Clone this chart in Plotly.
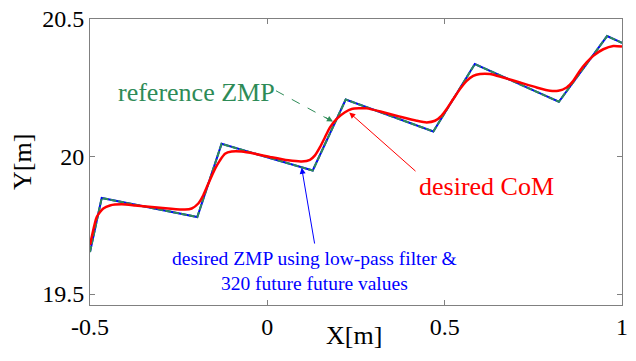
import plotly.graph_objects as go

# Reference ZMP / desired ZMP (piecewise linear footstep pattern)
zmp_x = [-0.5, -0.467, -0.1975, -0.129, 0.128, 0.221, 0.468, 0.585, 0.822, 0.958, 1.0]
zmp_y = [19.653, 19.849, 19.780, 20.046, 19.949, 20.207, 20.091, 20.336, 20.199, 20.438, 20.413]

# Desired CoM
com_x = [-0.5, -0.495, -0.481, -0.4625, -0.4436, -0.4106, -0.373, -0.326, -0.2793, -0.2322,
         -0.2133, -0.1947, -0.1806, -0.1665, -0.1476, -0.1335, -0.1194, -0.1005, -0.0723, -0.0348,
         0.0123, 0.0591, 0.0969, 0.1202, 0.1343, 0.1484, 0.1625, 0.1766, 0.1955, 0.2189,
         0.2378, 0.2801, 0.3269, 0.3739, 0.4211, 0.4493, 0.4727, 0.4915, 0.5057, 0.5243,
         0.5431, 0.562, 0.5806, 0.5995, 0.6277, 0.6652, 0.7123, 0.7594, 0.7969, 0.8203,
         0.844, 0.8626, 0.8814, 0.9003, 0.919, 0.9472, 0.9753, 1.0]
com_y = [19.678, 19.708, 19.780, 19.811, 19.822, 19.826, 19.822, 19.816, 19.811, 19.807,
         19.811, 19.829, 19.859, 19.901, 19.955, 19.986, 20.010, 20.018, 20.018, 20.010,
         19.997, 19.986, 19.982, 19.988, 20.004, 20.034, 20.070, 20.106, 20.137, 20.161,
         20.173, 20.175, 20.161, 20.145, 20.130, 20.124, 20.130, 20.149, 20.173, 20.209,
         20.245, 20.275, 20.293, 20.300, 20.300, 20.287, 20.269, 20.251, 20.239, 20.239,
         20.251, 20.275, 20.312, 20.342, 20.366, 20.390, 20.402, 20.400]

x_ticks = [-0.5, 0, 0.5, 1]
x_tick_labels = ["-0.5", "0", "0.5", "1"]
y_ticks = [19.5, 20, 20.5]
y_tick_labels = ["19.5", "20", "20.5"]

GREEN = "#2E8B57"
BLUE = "#0000FF"
RED = "#FF0000"
FONT = "Times New Roman, Liberation Serif, Tinos, DejaVu Serif, serif"

fig = go.Figure()
fig.add_trace(go.Scatter(x=zmp_x, y=zmp_y, mode="lines",
                         line=dict(color=BLUE, width=2), name="desired ZMP"))
fig.add_trace(go.Scatter(x=zmp_x, y=zmp_y, mode="lines",
                         line=dict(color=GREEN, width=2, dash="6px,2px"), name="reference ZMP"))
fig.add_trace(go.Scatter(x=com_x, y=com_y, mode="lines",
                         line=dict(color=RED, width=2.5, shape="spline", smoothing=0.6),
                         name="desired CoM"))

# dashed green pointer line + arrowhead
fig.add_shape(type="line", xref="x", yref="y", x0=0.0244, y0=20.239, x1=0.18, y1=20.13,
              line=dict(color=GREEN, width=1, dash="dash"))
fig.add_annotation(x=0.185, y=20.127, xref="x", yref="y", ax=-9, ay=-5, text="",
                   showarrow=True, arrowhead=2, arrowsize=1.2, arrowwidth=1, arrowcolor=GREEN,
                   standoff=0)
fig.add_annotation(x=-0.201, y=20.232, xref="x", yref="y", text="reference ZMP", showarrow=False,
                   font=dict(family=FONT, size=26, color=GREEN))

# red pointer
fig.add_annotation(x=0.231, y=20.160, xref="x", yref="y", axref="x", ayref="y",
                   ax=0.422, ay=19.942, text="", showarrow=True, arrowhead=2, arrowsize=1.2,
                   arrowwidth=1, arrowcolor=RED, standoff=0)
fig.add_annotation(x=0.619, y=19.891, xref="x", yref="y", text="desired CoM", showarrow=False,
                   font=dict(family=FONT, size=26, color=RED))

# blue pointer
fig.add_annotation(x=0.0968, y=19.959, xref="x", yref="y", axref="x", ayref="y",
                   ax=0.134, ay=19.678, text="", showarrow=True, arrowhead=2, arrowsize=1.2,
                   arrowwidth=1, arrowcolor=BLUE, standoff=0)
fig.add_annotation(x=0.134, y=19.583, xref="x", yref="y",
                   text="desired ZMP using low-pass filter &<br>320 future future values",
                   showarrow=False, align="center",
                   font=dict(family=FONT, size=19.5, color=BLUE))

# axis titles
fig.add_annotation(x=0.496, y=-0.108, xref="paper", yref="paper", text="X[m]", showarrow=False,
                   xanchor="center", yanchor="middle",
                   font=dict(family=FONT, size=26, color="black"))
fig.add_annotation(x=-0.128, y=0.5, xref="paper", yref="paper", text="Y[m]", showarrow=False,
                   xanchor="center", yanchor="middle", textangle=-90,
                   font=dict(family=FONT, size=26, color="black"))

axis_common = dict(showline=True, linecolor="#808080", linewidth=1, mirror="ticks",
                   ticks="inside", ticklen=5, tickcolor="#808080", showgrid=False,
                   zeroline=False, automargin=False,
                   tickfont=dict(family=FONT, size=24, color="black"))

fig.update_xaxes(range=[-0.5, 1.0], tickvals=x_ticks, ticktext=x_tick_labels,
                 ticklabelstandoff=0, **axis_common)
fig.update_yaxes(range=[19.46, 20.5], tickvals=y_ticks, ticktext=y_tick_labels,
                 ticklabelstandoff=0, **axis_common)

fig.update_layout(width=636, height=361, showlegend=False,
                  margin=dict(l=90, r=14, t=19, b=56),
                  plot_bgcolor="white", paper_bgcolor="white")

fig.write_html("out.html")
